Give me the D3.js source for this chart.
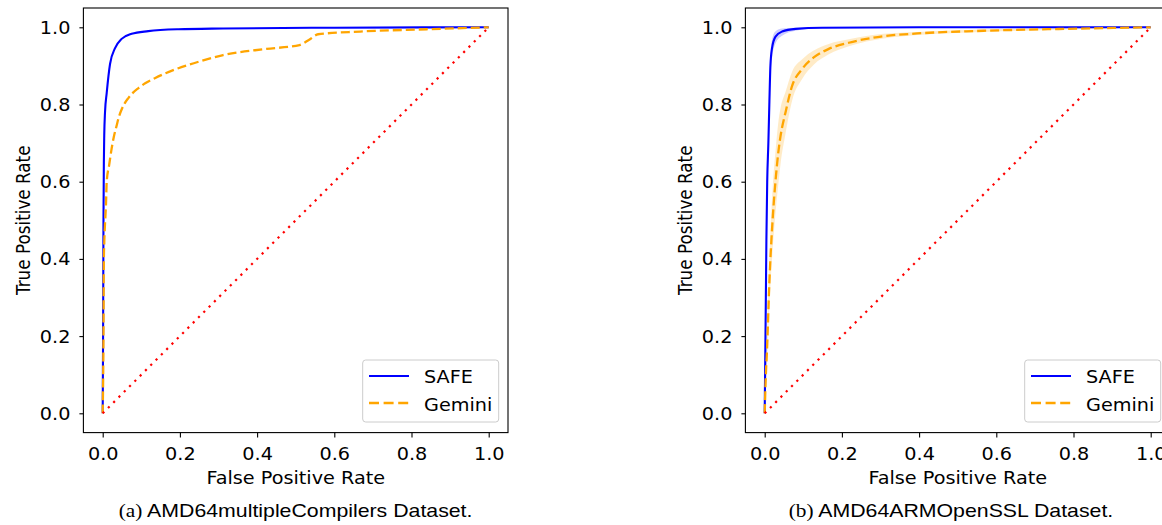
<!DOCTYPE html>
<html><head><meta charset="utf-8">
<script src="https://cdn.jsdelivr.net/npm/d3@7"></script>
<style>body{margin:0;background:#fff}</style>
</head><body><svg id="c" width="1162" height="525"></svg>
<script>
// ---------- data ----------
const xTicks = [0, 0.2, 0.4, 0.6, 0.8, 1.0];
const yTicks = [0, 0.2, 0.4, 0.6, 0.8, 1.0];
const seriesNames = ["SAFE", "Gemini"];
const xLabel = "False Positive Rate";
const yLabel = "True Positive Rate";

// panel (a) AMD64multipleCompilers
const aSafeFpr = [0, 0.001, 0.002, 0.003, 0.004, 0.006, 0.0104, 0.019, 0.032, 0.049, 0.075, 0.118, 0.196, 0.312, 0.6, 1.0];
const aSafeTpr = [0, 0.2, 0.5, 0.65, 0.72, 0.78, 0.83, 0.905, 0.946, 0.97, 0.983, 0.99, 0.995, 0.997, 0.999, 1.0];
const aGemFpr = [0, 0.002, 0.003, 0.004, 0.0086, 0.0104, 0.017, 0.023, 0.029, 0.036, 0.042, 0.049, 0.057, 0.066, 0.078, 0.092, 0.11, 0.135, 0.163, 0.196, 0.256, 0.312, 0.424, 0.51, 0.535, 0.558, 0.667, 0.84, 1.0];
const aGemTpr = [0, 0.2, 0.4, 0.44, 0.545, 0.6, 0.645, 0.685, 0.717, 0.745, 0.768, 0.787, 0.803, 0.816, 0.83, 0.842, 0.855, 0.868, 0.881, 0.894, 0.913, 0.928, 0.944, 0.954, 0.968, 0.982, 0.989, 0.995, 1.0];

// panel (b) AMD64ARMOpenSSL (mean with shaded band)
const bSafeFpr = [0, 0.001, 0.003, 0.0044, 0.0065, 0.0095, 0.012, 0.0148, 0.019, 0.028, 0.045, 0.08, 0.149, 0.4, 1.0];
const bSafeTpr = [0, 0.1, 0.3, 0.45, 0.6, 0.7, 0.8, 0.9, 0.946, 0.976, 0.989, 0.996, 0.999, 1.0, 1.0];
const bSafeLo  = [0, 0.08, 0.27, 0.41, 0.56, 0.66, 0.76, 0.87, 0.92, 0.958, 0.978, 0.991, 0.998, 1.0, 1.0];
const bSafeHi  = [0, 0.12, 0.33, 0.49, 0.64, 0.74, 0.84, 0.93, 0.968, 0.99, 0.997, 0.999, 1.0, 1.0, 1.0];
const bGemFpr = [0, 0.003, 0.006, 0.012, 0.021, 0.029, 0.036, 0.041, 0.054, 0.071, 0.097, 0.127, 0.166, 0.218, 0.308, 0.395, 0.567, 0.783, 1.0];
const bGemTpr = [0, 0.10, 0.164, 0.337, 0.509, 0.613, 0.682, 0.718, 0.78, 0.848, 0.892, 0.922, 0.944, 0.96, 0.977, 0.984, 0.991, 0.996, 1.0];
const bGemLo  = [0, 0.07, 0.12, 0.27, 0.43, 0.53, 0.60, 0.645, 0.725, 0.81, 0.866, 0.903, 0.93, 0.951, 0.971, 0.98, 0.988, 0.994, 1.0];
const bGemHi  = [0, 0.13, 0.21, 0.40, 0.59, 0.69, 0.76, 0.79, 0.833, 0.885, 0.917, 0.94, 0.957, 0.969, 0.983, 0.988, 0.994, 0.998, 1.0];

const chanceFpr = [0, 1];
const chanceTpr = [0, 1];

const captionTags = ["(a)", "(b)"];
const captionTexts = [" AMD64multipleCompilers Dataset.", " AMD64ARMOpenSSL Dataset."];

// ---------- drawing ----------
const svg = d3.select("#c");
const SX = 1.145;           // horizontal stretch of the original figure
const FS = 16.8;
const FONT = "DejaVu Sans";
const zip = (xs, ys) => xs.map((v, i) => [v, ys[i]]);

function txt(parent, x, y, s, o = {}) {
  const t = parent.append("text")
    .attr("transform", `translate(${x},${y}) scale(${SX},1)` + (o.rotate ? ` rotate(${o.rotate})` : ""))
    .attr("font-family", o.family || FONT)
    .attr("font-size", o.size || FS)
    .attr("text-anchor", o.anchor || "start")
    .attr("fill", "#000")
    .text(s);
  if (o.baseline) t.attr("dominant-baseline", o.baseline);
  return t;
}

function panel(ox, p) {
  const g = svg.append("g").attr("transform", `translate(${ox},0)`);
  const x = d3.scaleLinear().domain([-0.05, 1.05]).range([83.4, 508]);
  const y = d3.scaleLinear().domain([-0.05, 1.05]).range([432.6, 8.0]);
  const curve = d3.curveMonotoneX;
  const line = d3.line().curve(curve).x(d => x(d[0])).y(d => y(d[1]));
  const straight = d3.line().x(d => x(d[0])).y(d => y(d[1]));
  const area = d3.area().curve(curve).x(d => x(d[0])).y0(d => y(d[1])).y1(d => y(d[2]));

  // bands
  if (p.safeLo) {
    g.append("path").datum(p.safeFpr.map((v, i) => [v, p.safeLo[i], p.safeHi[i]]))
      .attr("d", area).attr("fill", "blue").attr("fill-opacity", 0.2);
  }
  if (p.gemLo) {
    g.append("path").datum(p.gemFpr.map((v, i) => [v, p.gemLo[i], p.gemHi[i]]))
      .attr("d", area).attr("fill", "orange").attr("fill-opacity", 0.22);
  }
  // curves
  g.append("path").datum(zip(p.safeFpr, p.safeTpr)).attr("d", line)
    .attr("fill", "none").attr("stroke", "blue").attr("stroke-width", 2.1).attr("stroke-linejoin", "round");
  g.append("path").datum(zip(p.gemFpr, p.gemTpr)).attr("d", line)
    .attr("fill", "none").attr("stroke", "orange").attr("stroke-width", 2.3)
    .attr("stroke-dasharray", "9,4");
  g.append("path").datum(zip(chanceFpr, chanceTpr)).attr("d", straight)
    .attr("fill", "none").attr("stroke", "red").attr("stroke-width", 2.2)
    .attr("stroke-dasharray", "2.2,5.3");

  // frame
  g.append("rect").attr("x", x(-0.05)).attr("y", y(1.05))
    .attr("width", x(1.05) - x(-0.05)).attr("height", y(-0.05) - y(1.05))
    .attr("fill", "none").attr("stroke", "#000").attr("stroke-width", 1.1);

  // axes
  const fmt = d3.format(".1f");
  const ax = g.append("g").attr("transform", `translate(0,${y(-0.05)})`)
    .call(d3.axisBottom(x).tickValues(xTicks).tickSize(5).tickFormat(fmt));
  ax.select(".domain").remove();
  ax.selectAll("line").attr("stroke", "#000").attr("stroke-width", 1.1);
  ax.selectAll("text").attr("y", 0).attr("dy", 0)
    .attr("transform", `translate(0,27.6) scale(${SX},1)`)
    .attr("font-family", FONT).attr("font-size", FS).attr("fill", "#000");

  const ay = g.append("g").attr("transform", `translate(${x(-0.05)},0)`)
    .call(d3.axisLeft(y).tickValues(yTicks).tickSize(4).tickFormat(fmt));
  ay.select(".domain").remove();
  ay.selectAll("line").attr("stroke", "#000").attr("stroke-width", 1.1);
  ay.selectAll("text").attr("x", 0).attr("dy", "0.36em")
    .attr("transform", `translate(-13,0) scale(${SX},1)`)
    .attr("font-family", FONT).attr("font-size", FS).attr("fill", "#000");

  // axis labels
  txt(g, (x(-0.05) + x(1.05)) / 2, 484, xLabel, { anchor: "middle" });
  txt(g, 23, (y(-0.05) + y(1.05)) / 2, yLabel, { anchor: "middle", rotate: -90, baseline: "central" });

  // legend
  const lg = g.append("g");
  lg.append("rect").attr("x", 362.7).attr("y", 360).attr("width", 136).attr("height", 62)
    .attr("rx", 3).attr("fill", "#fff").attr("fill-opacity", 0.8)
    .attr("stroke", "#cccccc").attr("stroke-width", 1);
  lg.append("line").attr("x1", 369).attr("x2", 409).attr("y1", 376).attr("y2", 376)
    .attr("stroke", "blue").attr("stroke-width", 2.1);
  lg.append("line").attr("x1", 369).attr("x2", 409).attr("y1", 403).attr("y2", 403)
    .attr("stroke", "orange").attr("stroke-width", 2.3).attr("stroke-dasharray", "10,4.6");
  txt(lg, 424, 383, seriesNames[0]);
  txt(lg, 424, 410.5, seriesNames[1]);

  // caption
  const cap = g.append("text")
    .attr("transform", `translate(${p.capX},517) scale(${SX},1)`)
    .attr("text-anchor", "middle").attr("font-size", 18.6).attr("fill", "#000");
  cap.append("tspan").attr("font-family", "Liberation Serif").text(p.tag);
  cap.append("tspan").attr("font-family", "Liberation Sans").attr("xml:space", "preserve").text(p.cap);
}

panel(0, {
  safeFpr: aSafeFpr, safeTpr: aSafeTpr, gemFpr: aGemFpr, gemTpr: aGemTpr,
  tag: captionTags[0], cap: captionTexts[0], capX: 295.6
});
panel(662, {
  safeFpr: bSafeFpr, safeTpr: bSafeTpr, safeLo: bSafeLo, safeHi: bSafeHi,
  gemFpr: bGemFpr, gemTpr: bGemTpr, gemLo: bGemLo, gemHi: bGemHi,
  tag: captionTags[1], cap: captionTexts[1], capX: 951 - 662
});
</script>
</body></html>
